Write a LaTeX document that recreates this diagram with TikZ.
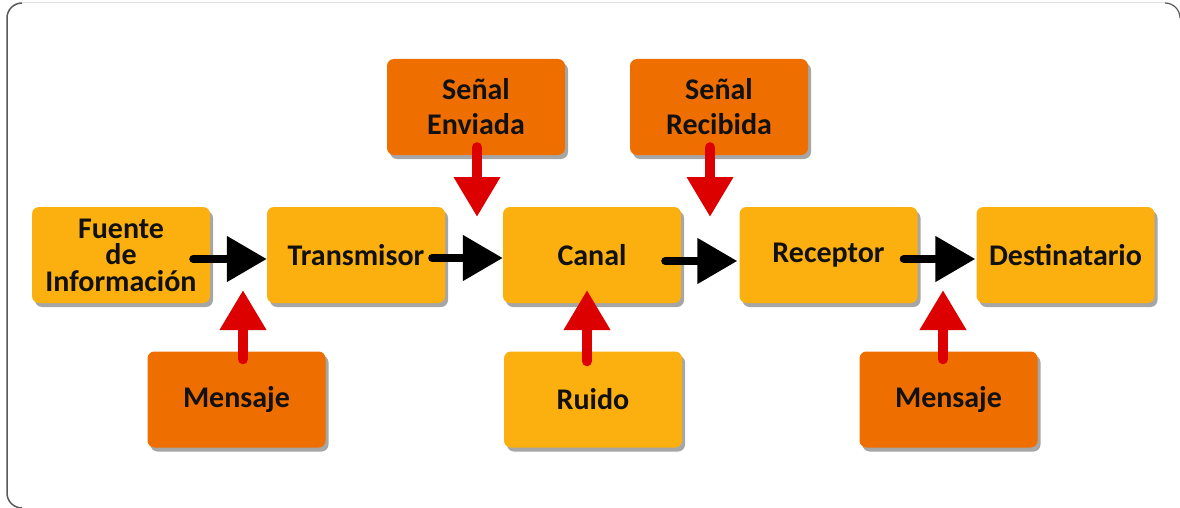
\documentclass[tikz,border=0pt]{standalone}
\usepackage{fontspec}
\setmainfont{Carlito}
\usetikzlibrary{arrows.meta,shadows}
\definecolor{lightor}{HTML}{FCB00F}
\definecolor{darkor}{HTML}{EE6F00}
\definecolor{redarrow}{HTML}{DD0000}
\definecolor{txt}{HTML}{111111}
\tikzset{
  box/.style={rounded corners=7pt, minimum width=178pt, minimum height=96pt,
    align=center, inner sep=0pt, text=txt,
    font=\bfseries\fontsize{30}{26.5}\selectfont,
    drop shadow={shadow xshift=3pt, shadow yshift=-4pt, fill=black, opacity=0.35}},
  lbox/.style={box, fill=lightor},
  dbox/.style={box, fill=darkor},
  blkarrow/.style={line width=8pt, line cap=round, black, -{Triangle[length=40pt,width=44pt]}},
  redarr/.style={line width=10pt, line cap=round, redarrow, -{Triangle[length=40pt,width=44pt]}},
}
\begin{document}
\begin{tikzpicture}[x=1pt,y=-1pt]
\useasboundingbox (0,0) rectangle (1180,508);
\fill[white] (0,0) rectangle (1180,508);
% frame
\draw[black!12, line width=1pt] (22,3) -- (1165,3);
\draw[black!65, line width=1.2pt] (1165,3) arc[start angle=90, end angle=0, radius=15pt];
\draw[black!65, line width=1.5pt] (22,3) arc[start angle=90, end angle=180, radius=15pt] -- (7,493) arc[start angle=180, end angle=270, radius=15pt];

% boxes
\node[lbox] (fuente) at (121,255) {Fuente\\de\\Información};
\node[lbox] (trans) at (356,255) {Transmisor};
\node[lbox] (canal) at (592,255) {Canal};
\node[lbox] (rec) at (828.5,255) {Receptor};
\node[lbox] (dest) at (1065.5,255) {Destinatario};
\node[dbox, font=\bfseries\fontsize{30}{35}\selectfont] (se) at (476,107) {Señal\\Enviada};
\node[dbox, font=\bfseries\fontsize{30}{35}\selectfont] (sr) at (719,107) {Señal\\Recibida};
\node[dbox] (m1) at (236.5,399.5) {Mensaje};
\node[lbox] (ruido) at (593,399.5) {Ruido};
\node[dbox] (m2) at (948.5,399.5) {Mensaje};

% black arrows
\draw[blkarrow] ([xshift=-17pt,yshift=-4pt]fuente.east) -- ([yshift=-4pt]trans.west);
\draw[blkarrow] ([xshift=-13pt,yshift=-3pt]trans.east) -- ([yshift=-3pt]canal.west);
\draw[blkarrow] ([xshift=-16pt,yshift=-6pt]canal.east) -- ([xshift=-2pt,yshift=-6pt]rec.west);
\draw[blkarrow] ([xshift=-14pt,yshift=-4pt]rec.east) -- ([xshift=-1pt,yshift=-4pt]dest.west);

% red arrows
\coordinate (t1) at (477,217);
\coordinate (t2) at (710,217);
\coordinate (t3) at (243,290);
\coordinate (t4) at (587,290);
\coordinate (t5) at (943,290);
\draw[redarr] ([xshift=1pt,yshift=8pt]se.south) -- (t1);
\draw[redarr] ([xshift=-9pt,yshift=8pt]sr.south) -- (t2);
\draw[redarr] ([xshift=6.5pt,yshift=-8pt]m1.north) -- (t3);
\draw[redarr] ([xshift=-6pt,yshift=-10pt]ruido.north) -- (t4);
\draw[redarr] ([xshift=-5.5pt,yshift=-8pt]m2.north) -- (t5);
\end{tikzpicture}
\end{document}
